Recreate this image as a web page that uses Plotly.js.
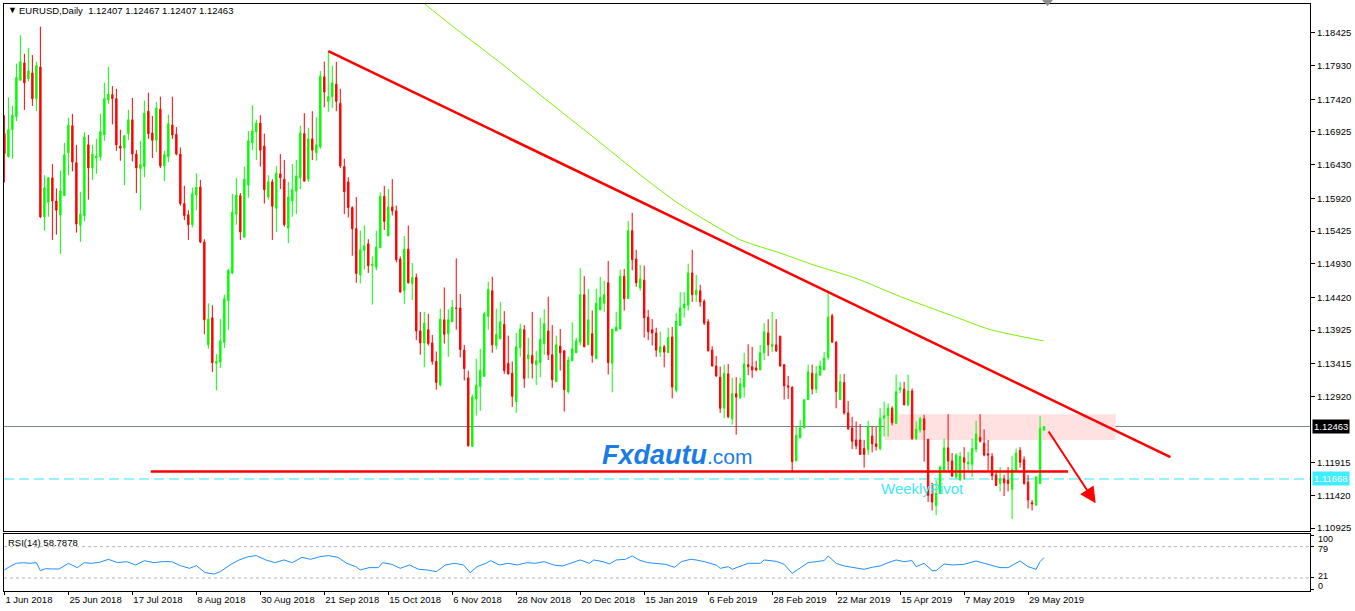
<!DOCTYPE html>
<html>
<head>
<meta charset="utf-8">
<script src="https://cdn.plot.ly/plotly-3.0.1.min.js"></script>
<style>
  html, body { margin: 0; padding: 0; background: #ffffff; }
  #chart { width: 1355px; height: 611px; }
</style>
</head>
<body>
<div id="chart"></div>
<script>
// ---------------- DATA ----------------
const symbolTitle = 'EURUSD,Daily  1.12407 1.12467 1.12407 1.12463';
const firstDay = '2018-06-01';
const marketHolidays = ['2018-12-25', '2019-01-01'];

const open = [1.1690,1.1655,1.1696,1.1716,1.1771,1.1797,1.1773,1.1782,1.1743,1.1791,
1.1564,1.1586,1.1623,1.1588,1.1567,1.1596,1.1661,1.1702,1.1646,1.1551,
1.1566,1.1673,1.1638,1.1653,1.1655,1.1688,1.1741,1.1749,1.1743,1.1671,
1.1668,1.1690,1.1711,1.1659,1.1637,1.1640,1.1724,1.1691,1.1680,1.1727,
1.1641,1.1655,1.1703,1.1689,1.1659,1.1584,1.1567,1.1552,1.1597,1.1609,
1.1526,1.1370,1.1411,1.1342,1.1344,1.1374,1.1437,1.1479,1.1568,1.1596,
1.1533,1.1612,1.1676,1.1693,1.1706,1.1671,1.1594,1.1617,1.1577,1.1629,
1.1621,1.1547,1.1588,1.1603,1.1623,1.1690,1.1621,1.1682,1.1661,1.1670,
1.1776,1.1739,1.1746,1.1765,1.1736,1.1640,1.1617,1.1578,1.1546,1.1476,
1.1513,1.1523,1.1490,1.1488,1.1517,1.1595,1.1535,1.1579,1.1573,1.1500,
1.1452,1.1515,1.1463,1.1472,1.1391,1.1373,1.1393,1.1373,1.1345,1.1309,
1.1408,1.1387,1.1405,1.1426,1.1426,1.1362,1.1320,1.1216,1.1288,1.1307,
1.1322,1.1413,1.1452,1.1369,1.1379,1.1401,1.1342,1.1327,1.1284,1.1366,
1.1393,1.1349,1.1354,1.1340,1.1343,1.1372,1.1391,1.1355,1.1314,1.1368,
1.1361,1.1299,1.1346,1.1358,1.1374,1.1446,1.1370,1.1387,1.1349,1.1423,
1.1433,1.1464,1.1342,1.1391,1.1394,1.1474,1.1440,1.1543,1.1500,1.1456,
1.1468,1.1412,1.1393,1.1388,1.1359,1.1367,1.1358,1.1382,1.1301,1.1399,
1.1426,1.1430,1.1479,1.1446,1.1452,1.1436,1.1405,1.1362,1.1338,1.1321,
1.1274,1.1326,1.1258,1.1296,1.1290,1.1306,1.1340,1.1337,1.1335,1.1332,
1.1358,1.1388,1.1368,1.1370,1.1383,1.1340,1.1308,1.1306,1.1194,1.1229,
1.1244,1.1287,1.1327,1.1303,1.1324,1.1332,1.1351,1.1414,1.1374,1.1287,
1.1313,1.1267,1.1244,1.1226,1.1226,1.1213,1.1211,1.1232,1.1220,1.1213,
1.1259,1.1263,1.1274,1.1251,1.1302,1.1303,1.1279,1.1300,1.1228,1.1241,
1.1258,1.1227,1.1159,1.1127,1.1145,1.1180,1.1214,1.1194,1.1170,1.1165,
1.1199,1.1190,1.1189,1.1212,1.1230,1.1221,1.1205,1.1201,1.1173,1.1160,
1.1167,1.1165,1.1151,1.1180,1.1210,1.1196,1.1162,1.1131,1.1127,1.1160,
1.12407];

const high = [1.1718,1.1745,1.1732,1.1796,1.1839,1.1811,1.1820,1.1809,1.1799,1.1852,
1.1627,1.1624,1.1644,1.1607,1.1634,1.1676,1.1714,1.1720,1.1673,1.1602,
1.1692,1.1688,1.1673,1.1682,1.1720,1.1767,1.1791,1.1762,1.1758,1.1696,
1.1687,1.1726,1.1744,1.1665,1.1679,1.1740,1.1752,1.1717,1.1738,1.1746,
1.1664,1.1719,1.1746,1.1700,1.1669,1.1611,1.1574,1.1608,1.1630,1.1620,
1.1530,1.1433,1.1430,1.1356,1.1409,1.1446,1.1485,1.1599,1.1623,1.1600,
1.1640,1.1694,1.1733,1.1711,1.1718,1.1690,1.1627,1.1621,1.1641,1.1659,
1.1650,1.1617,1.1644,1.1650,1.1702,1.1721,1.1699,1.1724,1.1715,1.1785,
1.1799,1.1815,1.1793,1.1799,1.1758,1.1652,1.1624,1.1580,1.1594,1.1543,
1.1551,1.1530,1.1504,1.1543,1.1601,1.1611,1.1606,1.1621,1.1581,1.1504,
1.1535,1.1551,1.1494,1.1478,1.1420,1.1420,1.1417,1.1385,1.1360,1.1425,
1.1457,1.1424,1.1438,1.1501,1.1447,1.1370,1.1331,1.1295,1.1349,1.1364,
1.1420,1.1466,1.1473,1.1425,1.1435,1.1421,1.1384,1.1345,1.1388,1.1402,
1.1400,1.1381,1.1420,1.1361,1.1411,1.1424,1.1443,1.1400,1.1384,1.1394,
1.1362,1.1352,1.1404,1.1381,1.1486,1.1474,1.1455,1.1422,1.1455,1.1473,
1.1467,1.1497,1.1394,1.1420,1.1484,1.1485,1.1558,1.1570,1.1514,1.1491,
1.1490,1.1423,1.1409,1.1396,1.1390,1.1370,1.1396,1.1397,1.1418,1.1450,
1.1450,1.1493,1.1514,1.1476,1.1461,1.1439,1.1409,1.1368,1.1353,1.1337,
1.1340,1.1341,1.1320,1.1321,1.1320,1.1358,1.1371,1.1367,1.1346,1.1370,
1.1403,1.1409,1.1420,1.1409,1.1384,1.1341,1.1323,1.1307,1.1246,1.1256,
1.1287,1.1340,1.1340,1.1338,1.1346,1.1359,1.1450,1.1417,1.1376,1.1326,
1.1326,1.1285,1.1261,1.1254,1.1250,1.1226,1.1255,1.1247,1.1246,1.1274,
1.1284,1.1281,1.1277,1.1325,1.1314,1.1314,1.1325,1.1304,1.1254,1.1261,
1.1264,1.1227,1.1161,1.1165,1.1187,1.1228,1.1265,1.1206,1.1206,1.1208,
1.1215,1.1208,1.1228,1.1255,1.1265,1.1242,1.1226,1.1206,1.1180,1.1185,
1.1173,1.1185,1.1202,1.1213,1.1215,1.1201,1.1173,1.1135,1.1170,1.1262,
1.12467];

const low = [1.1616,1.1654,1.1652,1.1709,1.1770,1.1726,1.1769,1.1732,1.1724,1.1562,
1.1543,1.1564,1.1529,1.1537,1.1508,1.1596,1.1627,1.1633,1.1540,1.1526,
1.1557,1.1590,1.1620,1.1629,1.1649,1.1679,1.1735,1.1704,1.1664,1.1649,
1.1612,1.1680,1.1648,1.1600,1.1574,1.1624,1.1682,1.1653,1.1662,1.1638,
1.1618,1.1647,1.1682,1.1657,1.1581,1.1559,1.1529,1.1548,1.1574,1.1524,
1.1386,1.1364,1.1329,1.1301,1.1335,1.1365,1.1393,1.1477,1.1552,1.1529,
1.1533,1.1593,1.1665,1.1650,1.1640,1.1584,1.1590,1.1529,1.1541,1.1606,
1.1549,1.1524,1.1564,1.1568,1.1606,1.1618,1.1617,1.1650,1.1649,1.1667,
1.1730,1.1723,1.1729,1.1724,1.1638,1.1568,1.1563,1.1505,1.1464,1.1463,
1.1484,1.1479,1.1431,1.1483,1.1517,1.1544,1.1535,1.1566,1.1495,1.1449,
1.1432,1.1463,1.1438,1.1377,1.1355,1.1336,1.1369,1.1340,1.1302,1.1307,
1.1372,1.1352,1.1405,1.1393,1.1351,1.1316,1.1216,1.1216,1.1263,1.1270,
1.1322,1.1393,1.1358,1.1363,1.1379,1.1326,1.1325,1.1276,1.1267,1.1352,
1.1305,1.1319,1.1319,1.1309,1.1321,1.1355,1.1347,1.1305,1.1314,1.1331,
1.1269,1.1296,1.1345,1.1358,1.1369,1.1367,1.1370,1.1343,1.1349,1.1423,
1.1420,1.1325,1.1298,1.1391,1.1394,1.1422,1.1440,1.1483,1.1458,1.1452,
1.1381,1.1377,1.1369,1.1352,1.1352,1.1336,1.1358,1.1289,1.1298,1.1399,
1.1411,1.1422,1.1435,1.1435,1.1428,1.1400,1.1360,1.1337,1.1321,1.1267,
1.1259,1.1259,1.1249,1.1234,1.1288,1.1290,1.1324,1.1320,1.1330,1.1332,
1.1347,1.1353,1.1359,1.1359,1.1337,1.1287,1.1288,1.1179,1.1194,1.1229,
1.1244,1.1287,1.1295,1.1297,1.1324,1.1332,1.1347,1.1374,1.1274,1.1287,
1.1264,1.1241,1.1212,1.1212,1.1204,1.1184,1.1203,1.1207,1.1210,1.1210,
1.1231,1.1231,1.1248,1.1251,1.1297,1.1279,1.1277,1.1226,1.1226,1.1237,
1.1193,1.1132,1.1119,1.1112,1.1145,1.1178,1.1180,1.1170,1.1167,1.1165,
1.1166,1.1180,1.1170,1.1207,1.1222,1.1201,1.1180,1.1165,1.1156,1.1148,
1.1141,1.1148,1.1106,1.1179,1.1184,1.1158,1.1122,1.1119,1.1127,1.1160,
1.12407];

const close = [1.1660,1.1696,1.1718,1.1775,1.1799,1.1767,1.1785,1.1743,1.1793,1.1564,
1.1608,1.1623,1.1588,1.1574,1.1603,1.1658,1.1703,1.1647,1.1553,1.1568,
1.1685,1.1638,1.1659,1.1656,1.1693,1.1743,1.1750,1.1743,1.1673,1.1668,
1.1687,1.1711,1.1659,1.1638,1.1643,1.1721,1.1690,1.1680,1.1729,1.1641,
1.1658,1.1705,1.1688,1.1659,1.1584,1.1566,1.1552,1.1599,1.1609,1.1526,
1.1408,1.1409,1.1343,1.1345,1.1376,1.1440,1.1483,1.1571,1.1597,1.1541,
1.1621,1.1679,1.1694,1.1706,1.1665,1.1605,1.1617,1.1580,1.1630,1.1623,
1.1552,1.1594,1.1605,1.1626,1.1691,1.1618,1.1682,1.1665,1.1673,1.1777,
1.1753,1.1746,1.1767,1.1739,1.1641,1.1602,1.1578,1.1546,1.1478,1.1514,
1.1520,1.1490,1.1492,1.1518,1.1595,1.1557,1.1579,1.1573,1.1499,1.1450,
1.1515,1.1464,1.1472,1.1391,1.1373,1.1403,1.1372,1.1345,1.1313,1.1409,
1.1386,1.1408,1.1427,1.1425,1.1363,1.1334,1.1217,1.1291,1.1309,1.1331,
1.1417,1.1454,1.1370,1.1386,1.1405,1.1331,1.1326,1.1292,1.1367,1.1394,
1.1319,1.1355,1.1342,1.1346,1.1378,1.1402,1.1355,1.1317,1.1370,1.1358,
1.1302,1.1347,1.1364,1.1376,1.1446,1.1367,1.1408,1.1354,1.1433,1.1442,
1.1446,1.1343,1.1394,1.1397,1.1474,1.1440,1.1543,1.1499,1.1464,1.1470,
1.1411,1.1390,1.1388,1.1362,1.1367,1.1359,1.1381,1.1306,1.1406,1.1426,
1.1432,1.1479,1.1446,1.1453,1.1435,1.1403,1.1361,1.1338,1.1323,1.1274,
1.1327,1.1261,1.1296,1.1291,1.1311,1.1341,1.1337,1.1332,1.1332,1.1358,
1.1390,1.1370,1.1371,1.1361,1.1338,1.1308,1.1306,1.1193,1.1233,1.1244,
1.1287,1.1329,1.1303,1.1326,1.1338,1.1350,1.1412,1.1374,1.1299,1.1314,
1.1267,1.1243,1.1224,1.1217,1.1204,1.1204,1.1247,1.1220,1.1216,1.1259,
1.1263,1.1274,1.1252,1.1299,1.1305,1.1279,1.1300,1.1228,1.1242,1.1258,
1.1241,1.1142,1.1132,1.1145,1.1185,1.1214,1.1194,1.1171,1.1203,1.1201,
1.1192,1.1192,1.1213,1.1235,1.1224,1.1203,1.1203,1.1172,1.1157,1.1167,
1.1161,1.1160,1.1181,1.1206,1.1192,1.1160,1.1135,1.1129,1.1170,1.1243,
1.12463];

// green moving average (read at selected bars)
const maBars   = [104.6, 111.6, 124.1, 136.6, 149.1, 159.1, 167.4, 170.4, 184.1, 194.1, 202.4, 212.9, 224.1, 236.6, 246.6, 259.9];
const maValues = [1.1889, 1.1855, 1.1797, 1.1736, 1.1676, 1.1627, 1.1589, 1.1577, 1.1529, 1.1509, 1.1491, 1.1471, 1.1443, 1.1415, 1.1393, 1.1376];

// RSI(14) read at selected bars
const rsiBars = [0,1.3,3,4.7,6.4,8,9,10.3,12,13.7,16,18.2,20,21.6,23.8,26,28.3,30.6,32.8,35,37.3,39.6,41.8,44,46.3,48,50.2,52.5,54,56.4,58.7,61,63,65.4,67.6,69.9,72,74.4,76.6,78.9,81,83.4,85.6,87.9,89,91.2,93.5,94.6,96.9,99,101.3,103.6,105.8,108,110.3,112.6,114.8,116.5,118.2,120.4,121.6,123.8,126,128.3,130.6,132.8,135,137.3,139.6,141.8,144,146.3,147.4,149.7,151.3,153,155.3,157,158.7,160.9,163,165.4,167.6,169.3,171.6,173,175,178,179,181,182,184,186,189,190,193,195,197,199,201,203,205,206,208,210,213,215,217,219,221,223,225,227,228,230,232,233,235,237,240,243,245,249,251,254,256,258,259,260];
const rsiValues = [35.8,42.0,48.2,49.4,48.2,49.4,34.6,38.3,37.7,37.7,48.2,40.2,49.4,48.2,50.0,55.6,49.4,51.3,45.1,53.1,49.4,51.3,51.3,43.9,38.9,43.9,30.9,28.4,32.7,45.1,54.4,60.5,62.4,54.4,49.4,54.4,49.4,59.3,55.6,60.5,62.4,59.3,48.2,42.0,35.8,40.2,40.2,49.4,46.3,38.9,45.1,37.1,35.8,32.7,45.1,48.2,45.1,30.9,42.0,48.2,53.1,45.1,48.2,45.1,49.4,48.2,51.3,45.1,43.3,49.4,54.4,48.2,54.4,51.3,47.0,54.4,55.6,61.8,54.4,49.4,48.2,46.3,40.8,51.3,55.6,54.4,51.3,45.1,38.9,42.0,37.1,43.3,48.2,48.2,54.4,51.9,46.3,29.7,38.9,49.4,51.3,53.1,61.8,48.2,43.3,38.9,37.1,40.8,43.3,49.4,54.4,51.3,53.1,42.0,48.2,34.6,34.6,47.0,45.1,46.3,52.5,48.2,40.2,40.2,52.5,42.0,37.1,51.3,58.79];
const rsiLevels = [21, 79];

// drawn objects (bar index, price)
const trendBars = [81, 291.6],  trendPrices = [1.1815, 1.1200];
const supportBars = [36.6, 266], supportPrice = 1.1178;
const zoneBars = [220.1, 277.9], zonePrices = [1.1226, 1.1265];
const arrowBars = [260.9, 272.9], arrowPrices = [1.1241, 1.1130];
const lastPrice = 1.12463;
const weeklyPivot = 1.11668;

const tickDates  = ['2018-06-01','2018-06-25','2018-07-17','2018-08-08','2018-08-30','2018-09-21','2018-10-15','2018-11-06','2018-11-28','2018-12-20','2019-01-15','2019-02-06','2019-02-28','2019-03-22','2019-04-15','2019-05-07','2019-05-29'];
const tickLabels = ['1 Jun 2018','25 Jun 2018','17 Jul 2018','8 Aug 2018','30 Aug 2018','21 Sep 2018','15 Oct 2018','6 Nov 2018','28 Nov 2018','20 Dec 2018','15 Jan 2019','6 Feb 2019','28 Feb 2019','22 Mar 2019','15 Apr 2019','7 May 2019','29 May 2019'];
const priceTicks = [1.18425,1.17930,1.17420,1.16925,1.16430,1.15920,1.15425,1.14930,1.14420,1.13925,1.13415,1.12920,1.11915,1.11420,1.10925];
const rsiTicks = [0, 21, 79, 100];
const rsiLast = 58.7878;

// ---------------- BUILD ----------------
function buildTradingDays(startISO, count, skip) {
  const out = [];
  const d = new Date(startISO + 'T00:00:00Z');
  while (out.length < count) {
    const dow = d.getUTCDay();
    const iso = d.toISOString().slice(0, 10);
    if (dow !== 0 && dow !== 6 && !skip.includes(iso)) out.push(iso);
    d.setUTCDate(d.getUTCDate() + 1);
  }
  return out;
}
const dates = buildTradingDays(firstDay, open.length, marketHolidays);
const bars = dates.map((d, i) => i);
const tickBars = tickDates.map(d => dates.indexOf(d));

// plot-area pixel helpers for layout decorations
const PL = 4, PR = 1310, PT = 4, PB = 591;
const px = x => (x - PL) / (PR - PL);
const py = y => (PB - y) / (PB - PT);

const FONT = 'Liberation Sans, Arial, sans-serif';

const traces = [
  {
    type: 'scatter', mode: 'lines', x: maBars, y: maValues,
    line: { color: '#7CF000', width: 1, shape: 'spline', smoothing: 0.6 }, xaxis: 'x', yaxis: 'y', hoverinfo: 'skip'
  },
  {
    type: 'candlestick', x: bars, open: open, high: high, low: low, close: close,
    xaxis: 'x', yaxis: 'y',
    increasing: { line: { color: '#00FF00', width: 1 }, fillcolor: '#00FF00' },
    decreasing: { line: { color: '#FF0000', width: 1 }, fillcolor: '#FF0000' },
    whiskerwidth: 0, hoverinfo: 'skip'
  },
  {
    type: 'scatter', mode: 'lines', x: trendBars, y: trendPrices,
    line: { color: '#FF0000', width: 2.5 }, xaxis: 'x', yaxis: 'y', hoverinfo: 'skip'
  },
  {
    type: 'scatter', mode: 'lines', x: supportBars, y: [supportPrice, supportPrice],
    line: { color: '#FF0000', width: 2.5 }, xaxis: 'x', yaxis: 'y', hoverinfo: 'skip'
  },
  {
    type: 'scatter', mode: 'lines', x: rsiBars, y: rsiValues,
    line: { color: '#1E90FF', width: 1 }, xaxis: 'x2', yaxis: 'y2', hoverinfo: 'skip'
  }
];

const shapes = [
  { type: 'rect', xref: 'x', yref: 'y', x0: zoneBars[0], x1: zoneBars[1], y0: zonePrices[0], y1: zonePrices[1],
    fillcolor: '#FFE1E1', line: { width: 0 }, layer: 'below' },
  { type: 'line', xref: 'paper', yref: 'y', x0: 0, x1: 1, y0: lastPrice, y1: lastPrice,
    line: { color: '#778899', width: 1 }, layer: 'below' },
  { type: 'line', xref: 'paper', yref: 'y', x0: 0, x1: 1, y0: weeklyPivot, y1: weeklyPivot,
    line: { color: '#33E6F5', width: 1, dash: '10px,5px' }, layer: 'below' },
  // chart-shift marker (small grey triangle at the top edge)
  { type: 'path', xref: 'paper', yref: 'paper',
    path: `M ${px(1042)} ${py(0)} L ${px(1053)} ${py(0)} L ${px(1047.5)} ${py(6)} Z`,
    fillcolor: '#8C8C8C', line: { width: 0 }, layer: 'above' }
].concat(rsiLevels.map(v => ({
  type: 'line', xref: 'paper', yref: 'y2', x0: 0, x1: 1, y0: v, y1: v,
  line: { color: '#B4B4B4', width: 1, dash: '3px,3px' }, layer: 'below'
})));

// RSI scale labels, placed like the reference (inside the panel height)
const rsiLabelY = { 100: 538.5, 79: 549, 21: 576, 0: 585.5 };

const annotations = [
  { xref: 'paper', yref: 'paper', x: px(6), y: py(10), xanchor: 'left', yanchor: 'middle', showarrow: false,
    text: '▼', font: { family: FONT, size: 9, color: '#000' } },
  { xref: 'paper', yref: 'paper', x: px(17), y: py(10.5), xanchor: 'left', yanchor: 'middle', showarrow: false,
    text: symbolTitle, font: { family: FONT, size: 9.5, color: '#000' } },
  { xref: 'paper', yref: 'paper', x: px(6), y: py(542), xanchor: 'left', yanchor: 'middle', showarrow: false,
    text: 'RSI(14) ' + rsiLast.toFixed(4), font: { family: FONT, size: 9.5, color: '#000' } },
  { xref: 'paper', yref: 'paper', x: px(600), y: py(455), xanchor: 'left', yanchor: 'middle', showarrow: false,
    text: "<b><i>Fxdautu</i></b><span style='font-size:21px'>.com</span>",
    font: { family: FONT, size: 27, color: '#1C7CE6' } },
  { xref: 'paper', yref: 'paper', x: px(879), y: py(488), xanchor: 'left', yanchor: 'middle', showarrow: false,
    text: 'WeeklyPivot', font: { family: FONT, size: 15, color: '#3FE7F7' } },
  { xref: 'paper', yref: 'y', x: 1, y: lastPrice, xanchor: 'left', yanchor: 'middle', xshift: 2, showarrow: false,
    text: lastPrice.toFixed(5), bgcolor: '#000000', borderpad: 1,
    font: { family: FONT, size: 9.5, color: '#FFFFFF' } },
  { xref: 'paper', yref: 'y', x: 1, y: weeklyPivot, xanchor: 'left', yanchor: 'middle', xshift: 2, showarrow: false,
    text: weeklyPivot.toFixed(5), bgcolor: '#3CEEFF', borderpad: 1,
    font: { family: FONT, size: 9.5, color: '#FFFFFF' } },
  { xref: 'x', yref: 'y', axref: 'x', ayref: 'y',
    x: arrowBars[1], y: arrowPrices[1], ax: arrowBars[0], ay: arrowPrices[0],
    showarrow: true, arrowhead: 2, arrowsize: 1.6, arrowwidth: 2, arrowcolor: '#FF0000', text: '' }
].concat(rsiTicks.map(v => ({
  xref: 'paper', yref: 'paper', x: px(1316), y: py(rsiLabelY[v]), xanchor: 'left', yanchor: 'middle',
  showarrow: false, text: String(v), font: { family: FONT, size: 9, color: '#000' }
})));

const axisCommon = {
  showgrid: false, zeroline: false, showline: true, mirror: true,
  linecolor: '#000000', linewidth: 1
};

const layout = {
  width: 1355, height: 611,
  margin: { l: PL, r: 1355 - PR, t: PT, b: 611 - PB },
  paper_bgcolor: '#FFFFFF', plot_bgcolor: '#FFFFFF',
  showlegend: false, boxgap: 0.5, dragmode: false,
  xaxis: Object.assign({}, axisCommon, {
    domain: [0, 1], anchor: 'y', type: 'linear', range: [-0.1, 326.5],
    showticklabels: false, ticks: '', rangeslider: { visible: false }
  }),
  xaxis2: Object.assign({}, axisCommon, {
    domain: [0, 1], anchor: 'y2', type: 'linear', matches: 'x', range: [-0.1, 326.5],
    tickmode: 'array', tickvals: tickBars, ticktext: tickLabels,
    ticks: 'outside', ticklen: 3, tickcolor: '#000', ticklabelposition: 'outside right',
    tickfont: { family: FONT, size: 9.5, color: '#000' }, rangeslider: { visible: false }
  }),
  yaxis: Object.assign({}, axisCommon, {
    domain: [py(531), 1], anchor: 'x', side: 'right', range: [1.10880, 1.18864],
    tickmode: 'array', tickvals: priceTicks, tickformat: '.5f',
    ticks: 'outside', ticklen: 4, tickcolor: '#000',
    tickfont: { family: FONT, size: 9.5, color: '#000' }
  }),
  yaxis2: Object.assign({}, axisCommon, {
    domain: [0, py(534)], anchor: 'x2', side: 'right', range: [-3.1, 102.5],
    tickmode: 'array', tickvals: rsiTicks, showticklabels: false,
    ticks: 'outside', ticklen: 3, tickcolor: '#000'
  }),
  shapes: shapes,
  annotations: annotations
};

Plotly.newPlot('chart', traces, layout, { displayModeBar: false, staticPlot: true });
</script>
</body>
</html>
